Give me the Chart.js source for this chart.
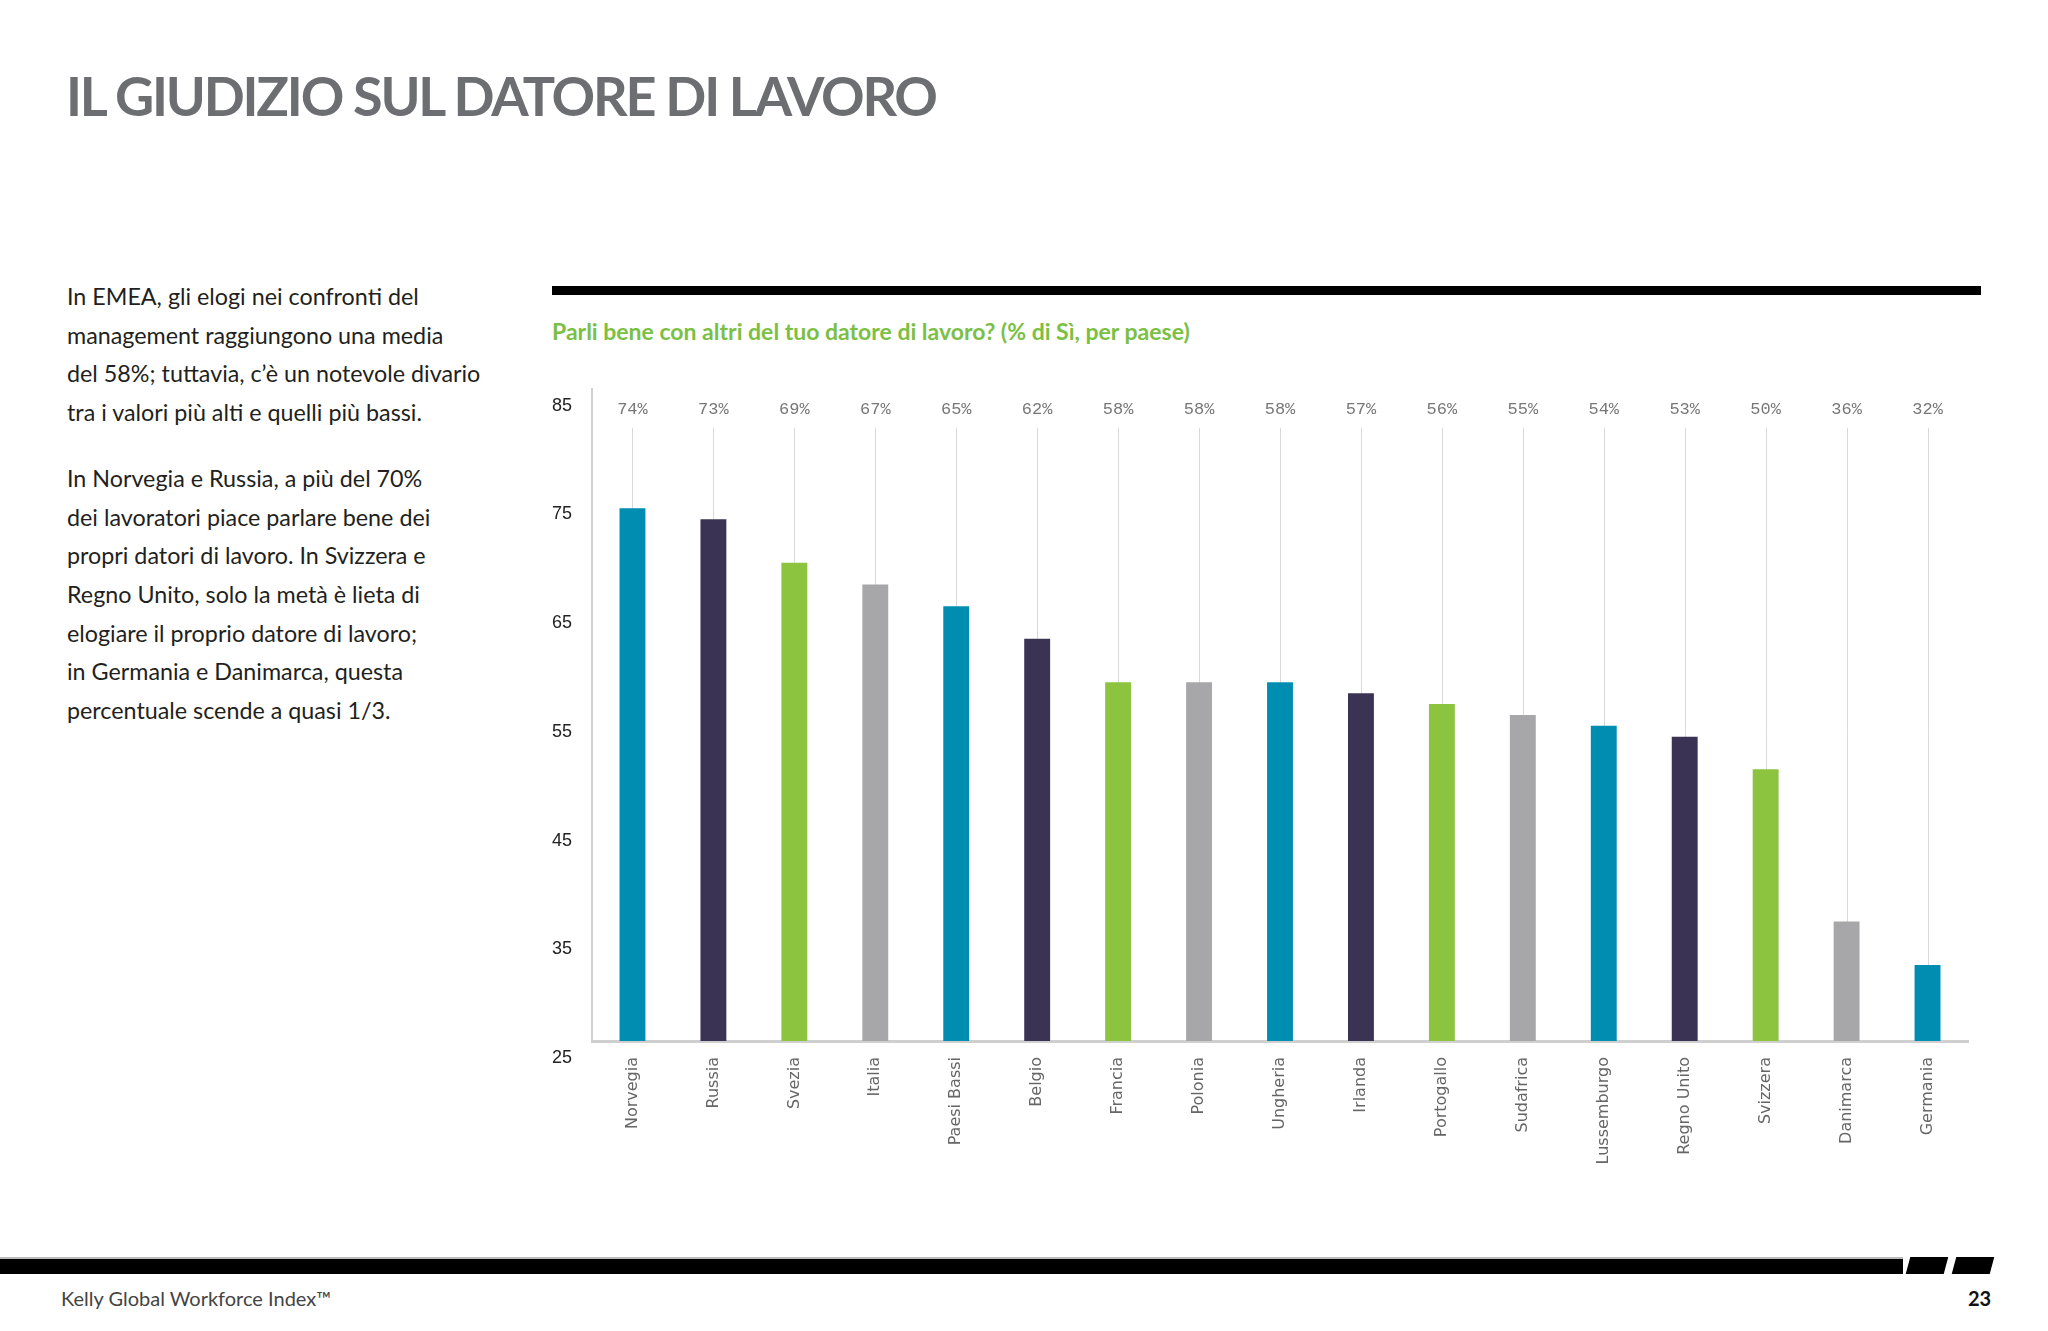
<!DOCTYPE html>
<html lang="it">
<head>
    <meta charset="UTF-8">
    <title>Il giudizio sul datore di lavoro</title>
    <script src="https://cdn.jsdelivr.net/npm/chart.js"></script>
    <style>
        body {
            margin: 0;
            width: 2048px;
            height: 1331px;
            position: relative;
            background: #fff;
            font-family: Lato, "Open Sans", sans-serif;
            overflow: hidden;
        }
        h1 {
            position: absolute;
            left: 66px;
            top: 61px;
            margin: 0;
            font-size: 54px;
            font-weight: 700;
            letter-spacing: -2.2px;
            color: #6d6e71;
            line-height: 70px;
        }
        .intro {
            position: absolute;
            left: 67px;
            top: 277px;
            font-size: 23.3px;
            line-height: 38.7px;
            color: #231f20;
            white-space: nowrap;
        }
        .intro p { margin: 0 0 27px 0; }
        .topbar {
            position: absolute;
            left: 552px;
            top: 286px;
            width: 1429px;
            height: 9px;
            background: #000;
        }
        .subtitle {
            position: absolute;
            left: 552px;
            top: 317px;
            font-size: 23px;
            font-weight: 700;
            color: #7bbf44;
        }
        #chart_container {
            position: absolute;
            left: 500px;
            top: 358px;
            width: 1490px;
            height: 842px;
        }
        .footband {
            position: absolute;
            left: 0;
            top: 1257px;
            width: 1903px;
            height: 15px;
            background: #000;
            border-top: 2px solid #bbb;
        }
        .slash {
            position: absolute;
            top: 1257px;
            width: 38px;
            height: 17px;
            background: #000;
            transform: skewX(-15deg);
        }
        .footer {
            position: absolute;
            top: 1286px;
            font-size: 20px;
            color: #444;
        }
    </style>
</head>
<body>
    <h1>IL GIUDIZIO SUL DATORE DI LAVORO</h1>

    <div class="intro">
        <p>In EMEA, gli elogi nei confronti del<br>management raggiungono una media<br>del 58%; tuttavia, c’è un notevole divario<br>tra i valori più alti e quelli più bassi.</p>
        <p>In Norvegia e Russia, a più del 70%<br>dei lavoratori piace parlare bene dei<br>propri datori di lavoro. In Svizzera e<br>Regno Unito, solo la metà è lieta di<br>elogiare il proprio datore di lavoro;<br>in Germania e Danimarca, questa<br>percentuale scende a quasi 1/3.</p>
    </div>

    <div class="topbar"></div>
    <div class="subtitle">Parli bene con altri del tuo datore di lavoro? (% di Sì, per paese)</div>

    <div id="chart_container">
        <canvas id="chart"></canvas>
    </div>

    <div class="footband"></div>
    <div class="slash" style="left:1908px"></div>
    <div class="slash" style="left:1954px"></div>
    <div class="footer" style="left:61px">Kelly Global Workforce Index™</div>
    <div class="footer" style="left:1968px;font-weight:700;color:#111">23</div>

    <script>
        // dati
        const countries = [
            'Norvegia', 'Russia', 'Svezia', 'Italia', 'Paesi Bassi', 'Belgio',
            'Francia', 'Polonia', 'Ungheria', 'Irlanda', 'Portogallo', 'Sudafrica',
            'Lussemburgo', 'Regno Unito', 'Svizzera', 'Danimarca', 'Germania'
        ]
        const values = [74, 73, 69, 67, 65, 62, 58, 58, 58, 57, 56, 55, 54, 53, 50, 36, 32]
        const yMin = 25
        const yMax = 85
        const yStep = 10

        // colori a rotazione
        const PALETTE = ['#008db2', '#3a3353', '#8cc43f', '#a7a7a9']
        const barColors = countries.map((_, i) => PALETTE[i % PALETTE.length])

        // linee verticali + etichette valore in alto
        const lollipopPlugin = {
            id: 'lollipop',
            beforeDatasetsDraw(chart) {
                const { ctx, chartArea, scales } = chart
                ctx.save()
                ctx.strokeStyle = '#d9d9d9'
                ctx.lineWidth = 1
                countries.forEach((c, i) => {
                    const x = Math.round(scales.x.getPixelForValue(i)) + 0.5
                    ctx.beginPath()
                    ctx.moveTo(x, chartArea.top + 39)
                    ctx.lineTo(x, chartArea.bottom)
                    ctx.stroke()
                })
                ctx.restore()
            },
            afterDatasetsDraw(chart) {
                const { ctx, chartArea, scales } = chart
                ctx.save()
                ctx.fillStyle = '#777'
                ctx.font = '17px "Liberation Mono", "DejaVu Sans Mono", monospace'
                ctx.textAlign = 'center'
                ctx.textBaseline = 'middle'
                values.forEach((v, i) => {
                    const x = scales.x.getPixelForValue(i)
                    ctx.fillText(v + '%', x, chartArea.top + 21)
                })
                ctx.restore()
            }
        }

        const ctx = document.getElementById('chart').getContext('2d')
        new Chart(ctx, {
            type: 'bar',
            data: {
                labels: countries,
                datasets: [{
                    data: values,
                    backgroundColor: barColors,
                    borderWidth: 0,
                    barPercentage: 0.32,
                    categoryPercentage: 1
                }]
            },
            options: {
                responsive: true,
                maintainAspectRatio: false,
                animation: false,
                layout: { padding: { top: 7, right: 22, bottom: 0, left: 0 } },
                plugins: {
                    legend: { display: false },
                    tooltip: { enabled: false }
                },
                scales: {
                    x: {
                        grid: { display: false },
                        border: { display: true, color: '#cfcfcf', width: 3 },
                        ticks: {
                            minRotation: 90,
                            maxRotation: 90,
                            autoSkip: false,
                            padding: 8,
                            color: '#666',
                            font: { family: '"DejaVu Sans", sans-serif', size: 16 }
                        },
                        afterFit(scale) { scale.height = 159 }
                    },
                    y: {
                        min: yMin,
                        max: yMax,
                        grid: { display: false, drawTicks: false },
                        border: { display: true, color: '#d0d0d0', width: 2 },
                        ticks: {
                            stepSize: yStep,
                            padding: 20,
                            labelOffset: 17,
                            color: '#222',
                            font: { family: '"Liberation Sans Narrow", "Liberation Sans", sans-serif', size: 18 }
                        },
                        afterFit(scale) { scale.width = 92 }
                    }
                }
            },
            plugins: [lollipopPlugin]
        })
    </script>
</body>
</html>
